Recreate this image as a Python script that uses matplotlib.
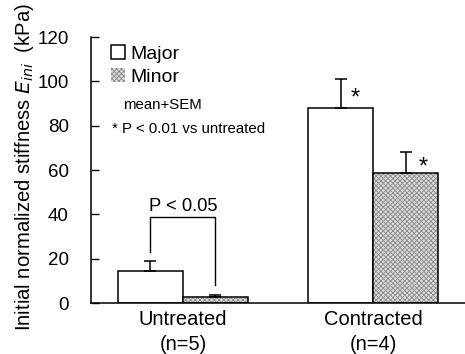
import matplotlib
matplotlib.use("Agg")
import matplotlib.pyplot as plt
import numpy as np

plt.rcParams['font.family'] = ['Liberation Sans', 'DejaVu Sans']
plt.rcParams['hatch.linewidth'] = 0.6
plt.rcParams['hatch.color'] = '#8a8a8a'

groups = ["Untreated\n(n=5)", "Contracted\n(n=4)"]
series = ["Major", "Minor"]
major_mean = [14.6, 87.8]
major_sem = [4.4, 13.2]
minor_mean = [2.6, 58.5]
minor_sem = [1.0, 9.7]
yticks = [0, 20, 40, 60, 80, 100, 120]

fig = plt.figure(figsize=(4.65, 3.54), dpi=100)
ax = fig.add_axes([91/465, 1-303/354, 1-91/465, (303-37)/354])

x = np.arange(len(groups))
w = 0.342
err_kw = dict(lw=1.1, capsize=4, capthick=1.1, ecolor='black')
ax.bar(x - w/2, major_mean, w, color='white', edgecolor='black', lw=1.1,
       label=series[0])
ax.errorbar(x - w/2, major_mean, yerr=[np.zeros(2), major_sem], fmt='none', **err_kw)
b2 = ax.bar(x + w/2, minor_mean, w, color='#dcdcdc', edgecolor='black', lw=1.1,
            hatch='xxxxxxx', label=series[1])
for p in b2:
    p.set_edgecolor('#8a8a8a')
    p.set_linewidth(0)
ax.bar(x + w/2, minor_mean, w, fill=False, edgecolor='black', lw=1.1)
ax.errorbar(x + w/2, minor_mean, yerr=[np.zeros(2), minor_sem], fmt='none', **err_kw)

ax.set_xlim(-0.484, 1.484)
ax.set_ylim(0, 120)
ax.set_yticks(yticks)
ax.set_xticks(x)
ax.set_xticklabels(groups, fontsize=14.5, linespacing=1.4)
ax.tick_params(axis='x', length=0, pad=5)
ax.tick_params(axis='y', direction='in', length=6, width=1, labelsize=13.5, pad=16)
for s in ['top', 'right']:
    ax.spines[s].set_visible(False)
ax.spines['left'].set_linewidth(1.1)
ax.spines['bottom'].set_linewidth(1.1)

ax.set_ylabel("Initial normalized stiffness $E_{ini}$  (kPa)", fontsize=14.6)
ax.yaxis.set_label_coords(-0.146, 0.513)

# significance bracket
xl = x[0] - w/2
xr = x[0] + w/2
ytop = 39
ax.plot([xl, xl, xr, xr], [major_mean[0] + major_sem[0] + 4, ytop, ytop,
        minor_mean[0] + minor_sem[0] + 4.5], color='black', lw=1.0)
ax.text((xl + xr)/2, ytop + 2.7, "P < 0.05", ha='center', va='baseline', fontsize=13.2)

# stars
ax.text(x[1] - w/2 + 0.076, major_mean[1] + 4.5, "*", ha='center', va='center', fontsize=17)
ax.text(x[1] + w/2 + 0.092, minor_mean[1] + 2.7, "*", ha='center', va='center', fontsize=17)

leg = ax.legend(loc='upper left', bbox_to_anchor=(12/374, 1.0), frameon=False,
                fontsize=14, handlelength=0.72, handleheight=0.72,
                handletextpad=0.3, labelspacing=0.3, borderaxespad=0)

ax.text(123/465, 1-105/354, "mean+SEM", transform=fig.transFigure,
        fontsize=10.8, va='center', ha='left')
ax.text(112/465, 1-129/354, "* P < 0.01 vs untreated", transform=fig.transFigure,
        fontsize=10.8, va='center', ha='left')

fig.savefig("out.png", dpi=100)
